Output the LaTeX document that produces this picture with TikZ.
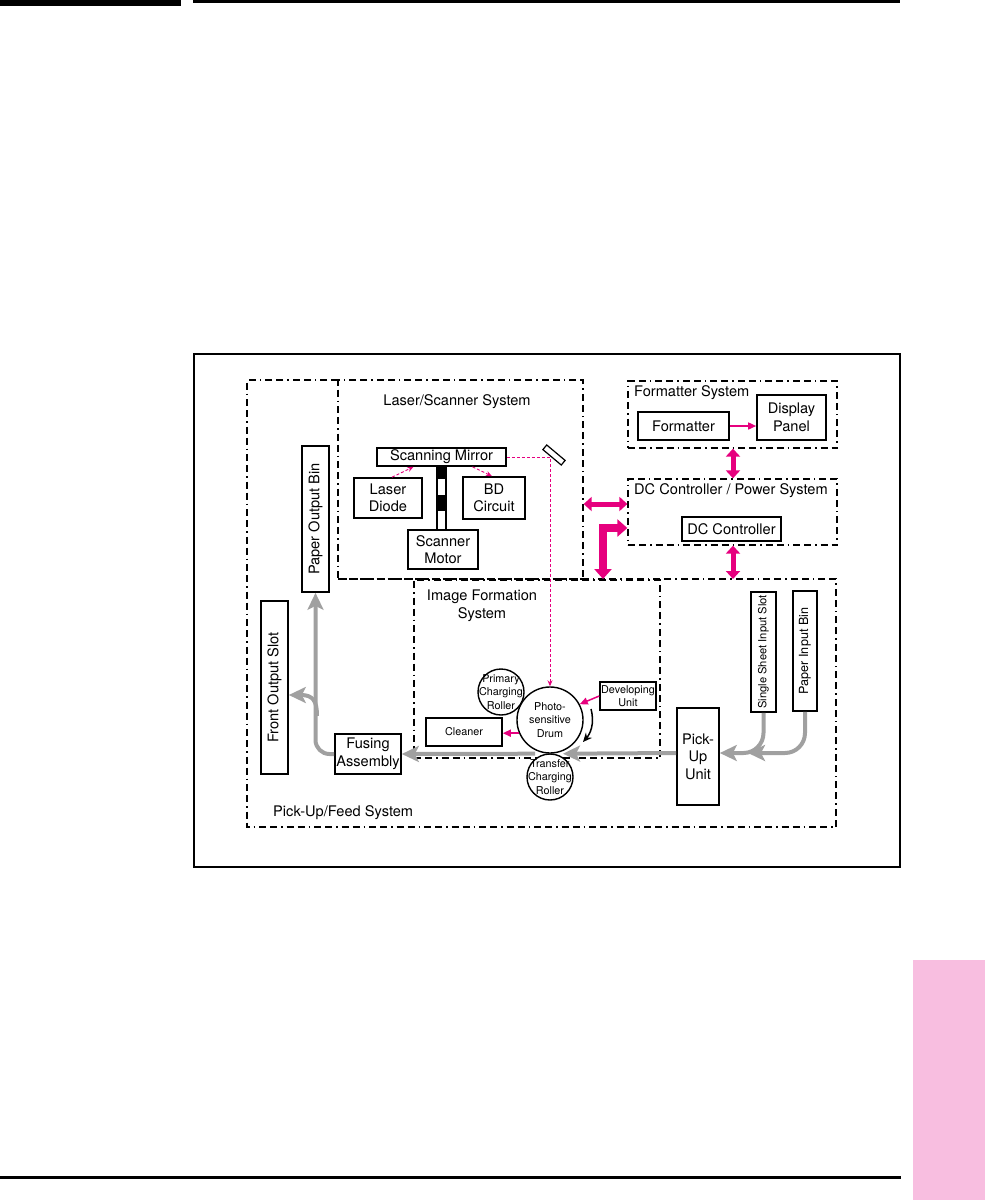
\documentclass[tikz,border=0pt]{standalone}
\usepackage{fontspec}
\setmainfont{TeX Gyre Heros}
\usetikzlibrary{arrows.meta,calc}
\definecolor{hpmag}{RGB}{230,0,126}
\definecolor{pathgray}{RGB}{160,160,160}
\definecolor{tabpink}{RGB}{248,190,224}
\begin{document}
\begin{tikzpicture}[x=1pt,y=-1pt,
  font=\fontsize{14.6}{17.5}\selectfont,
  box/.style={draw, line width=1.6pt, inner sep=0pt, align=center},
  small/.style={font=\fontsize{10.8}{13.2}\selectfont},
  roller/.style={draw, circle, line width=1.4pt, inner sep=0pt},
  sysbox/.style={draw, line width=1.3pt, dash pattern=on 7pt off 4pt on 7pt off 4pt on 1.5pt off 4pt, inner sep=0pt},
  syspath/.style={line width=1.3pt, dash pattern=on 7pt off 4pt on 7pt off 4pt on 1.5pt off 4pt},
  bigpink/.style={draw=hpmag, line width=5pt, arrows={Triangle[length=8pt,width=14pt]-Triangle[length=8pt,width=14pt]}},
  Lpink/.style={draw=hpmag, line width=8pt, line join=miter, arrows={Triangle[length=10pt,width=17pt]-Triangle[length=10pt,width=17pt]}},
  thinpink/.style={draw=hpmag, line width=1.5pt, -{Triangle[length=8pt,width=7pt]}},
  beam/.style={draw=hpmag, line width=0.9pt, dash pattern=on 3pt off 2pt, -{Stealth[length=6pt,width=5pt]}},
  paper/.style={draw=pathgray, line width=4pt, -{Stealth[length=17pt,width=16pt,inset=4pt]}}
]
\useasboundingbox (0,0) rectangle (985,1200);
% page furniture
\fill (0,0) rectangle (181,6);
\fill (193,0) rectangle (900,2.5);
\fill (0,1175.5) rectangle (901,1178.5);
\fill[tabpink] (913,960) rectangle (985,1200);
% outer frame
\draw[line width=2pt] (194,354) rectangle (900,867);

% system boundaries
\draw[syspath] (338,380) -- (247,380) -- (247,827) -- (836,827) -- (836,579) -- (338,579);
\node[sysbox, minimum width=245, minimum height=199] (laser) at (460.5,479.5) {};
\node[sysbox, minimum width=246, minimum height=178] (imgform) at (537,669) {};
\node[sysbox, minimum width=209, minimum height=67] (fsys) at (732.5,414.5) {};
\node[sysbox, minimum width=209, minimum height=66] (dcsys) at (732.5,512) {};

% system labels
\node (laserlbl) at (457,402) {Laser/Scanner System};
\node[anchor=west, inner sep=0pt] (fsyslbl) at (634,393) {Formatter System};
\node[anchor=west, inner sep=0pt] (dcsyslbl) at (634,491) {DC Controller / Power System};
\node[align=center] (imglbl) at (482,606) {Image Formation\\System};
\node[anchor=west, inner sep=0pt] (pflbl) at (273,813) {Pick-Up/Feed System};

% formatter / DC
\node[box, minimum width=91, minimum height=28] (fmt) at (683.5,426) {Formatter};
\node[box, minimum width=69, minimum height=45] (disp) at (791.5,417.5) {Display\\Panel};
\node[box, minimum width=99, minimum height=24] (dcc) at (731.5,529) {DC Controller};

% laser/scanner parts
\node[box, minimum width=129, minimum height=18] (sm) at (441.5,457) {Scanning Mirror};
\node[box, minimum width=68, minimum height=40] (ld) at (388,498) {Laser\\Diode};
\node[box, minimum width=62, minimum height=42] (bd) at (494,498) {BD\\Circuit};
\node[box, minimum width=70, minimum height=39] (smot) at (443,549.5) {Scanner\\Motor};
\node[draw, line width=1.2pt, minimum width=24, minimum height=6, inner sep=0pt, rotate=-40] (mirror) at (554,455) {};
% shaft
\fill (436,466) rectangle (447,479);
\fill (436,495) rectangle (447,511);
\draw[line width=2pt] (437,466) rectangle (446,530);

% output side
\node[box, rotate=90, minimum width=146, minimum height=27] (pob) at (315.5,519) {Paper Output Bin};
\node[box, rotate=90, minimum width=173, minimum height=27] (fos) at (274.5,687.5) {Front Output Slot};
\node[box, minimum width=66, minimum height=40] (fa) at (368,754) {Fusing\\Assembly};

% image formation parts
\node[box, small, minimum width=76, minimum height=28] (cl) at (464,732) {Cleaner};
\node[box, small, minimum width=56, minimum height=28] (dev) at (628,696) {Developing\\Unit};
\node[roller, minimum size=46, label={[small, align=center]center:Primary\\Charging\\Roller}] (pcr) at (501,692) {};
\node[roller, minimum size=66, fill=white, label={[small, align=center]center:Photo-\\sensitive\\Drum}] (drum) at (550,720) {};
\node[roller, minimum size=46, fill=white, label={[small, align=center]center:Transfer\\Charging\\Roller}] (tcr) at (550,777) {};

% pick-up side
\node[box, minimum width=42, minimum height=97] (pu) at (698,756.5) {Pick-\\Up\\Unit};
\node[box, rotate=90, minimum width=120, minimum height=25, font=\fontsize{11.2}{13}\selectfont] (sss) at (763.5,652) {Single Sheet Input Slot};
\node[box, rotate=90, minimum width=120, minimum height=24, font=\fontsize{12.6}{14}\selectfont] (pib) at (805,651) {Paper Input Bin};

% pink connectors
\draw[thinpink] (fmt.east) -- (fmt.east -| disp.west);
\coordinate (pftop) at (733,579);
\draw[bigpink] (pftop |- fsys.south) -- (pftop |- dcsys.north);
\draw[bigpink] (pftop |- dcsys.south) -- (pftop);
\draw[bigpink] (laser.east |- 0,504) -- (dcsys.west |- 0,504);
\coordinate (lfoot) at (603,579);
\draw[Lpink] (lfoot) |- (dcsys.west |- 0,528);

\draw[beam] ($(ld.north)+(4,0)$) -- ($(sm.south)+(-28,0)$);
\draw[beam] ($(sm.south)+(31,0)$) -- ($(bd.north)+(-2,0)$);
\draw[beam] (sm.east) -| (drum.north);
\draw[thinpink] (dev.west) -- (drum.28);
\draw[thinpink] (drum.203) -- (cl.east |- drum.203);
\draw[line width=1.5pt, -{Stealth[length=9pt,width=8pt]}] ($(drum.center)+(41,-11)$) .. controls ($(drum.center)+(45,4)$) and ($(drum.center)+(40,14)$) .. ($(drum.center)+(33,22)$);

% paper path
\draw[paper] (pu.west |- 0,753) -- ($(drum.south)+(13,0)$);
\draw[paper] ($(drum.south)+(-15,0)$) -- (fa.east);
\draw[paper, rounded corners=14pt] (fa.west) -| (pob.west);
\draw[paper] (317,716) .. controls (317,701) and (313,695) .. (fos.south |- 0,695);
\draw[paper, rounded corners=20pt] (sss.west) |- (pu.east |- 0,753);
\coordinate (pibend) at (748,753);
\draw[paper, rounded corners=20pt] (pib.west) |- (pibend);
\end{tikzpicture}
\end{document}
